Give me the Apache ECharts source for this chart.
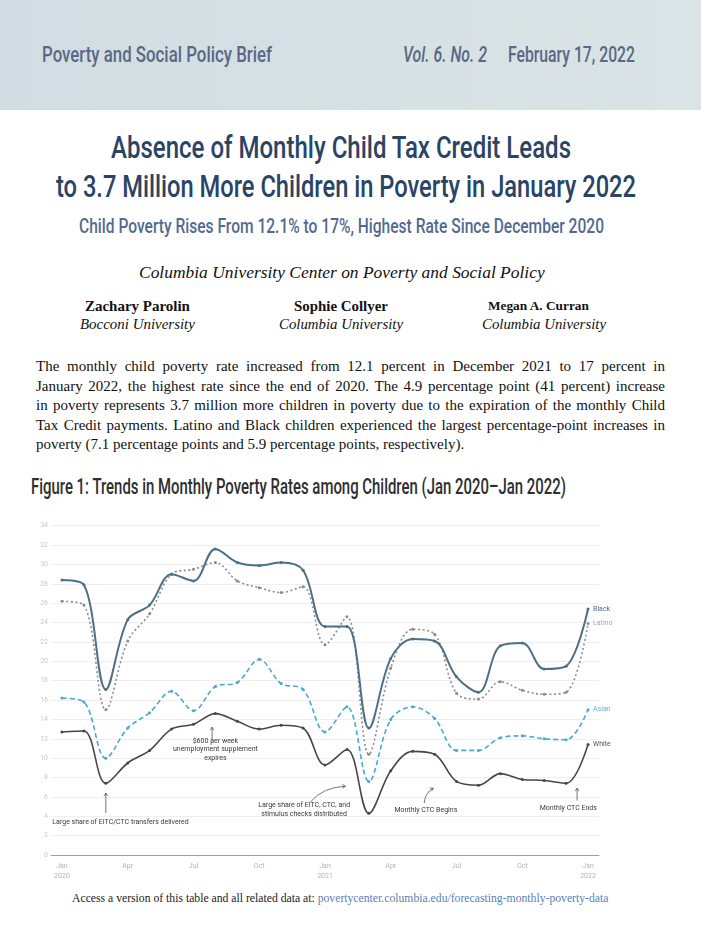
<!DOCTYPE html>
<html><head><meta charset="utf-8">
<script src="https://cdn.jsdelivr.net/npm/echarts@6/dist/echarts.min.js"></script>
<style>
html,body{margin:0;padding:0;width:701px;height:932px;background:#fff;overflow:hidden;position:relative}
.t{position:absolute;white-space:nowrap;line-height:1;margin:0;display:inline-block}
.cond{font-family:Roboto,'Noto Sans',sans-serif;transform-origin:0 50%;font-weight:500}
.serif{font-family:'Liberation Serif','Times New Roman',serif;color:#111}
#hdr{position:absolute;left:0;top:0;width:701px;height:110px;background:linear-gradient(90deg,#d1dde2,#dae4e6)}
#chart{position:absolute;left:0;top:500px;width:701px;height:390px}
a{color:#5a7fb8;text-decoration:none}
</style></head><body>
<div id="hdr"></div>
<span class="t cond" style="left:42px;top:55px;font-size:22px;color:#5a6885" data-w="230">Poverty and Social Policy Brief</span>
<span class="t cond" style="left:403px;top:55px;font-size:22px;color:#5a6885;font-style:italic" data-w="84">Vol. 6. No. 2</span>
<span class="t cond" style="left:508px;top:55px;font-size:22px;color:#5a6885" data-w="127">February 17, 2022</span>

<span class="t cond" style="left:111px;top:147px;font-size:31px;color:#2a4466" data-w="460">Absence of Monthly Child Tax Credit Leads</span>
<span class="t cond" style="left:56px;top:186px;font-size:31px;color:#2a4466" data-w="580">to 3.7 Million More Children in Poverty in January 2022</span>
<span class="t cond" style="left:79px;top:226px;font-size:20px;color:#536a90" data-w="525">Child Poverty Rises From 12.1% to 17%, Highest Rate Since December 2020</span>

<span class="t serif" style="left:139px;top:273px;font-size:17px;font-style:italic" data-w="406" data-m="fs">Columbia University Center on Poverty and Social Policy</span>
<span class="t serif" style="left:85px;top:306px;font-size:15px;font-weight:bold" data-w="105" data-m="fs">Zachary Parolin</span>
<span class="t serif" style="left:294px;top:306px;font-size:15px;font-weight:bold" data-w="94" data-m="fs">Sophie Collyer</span>
<span class="t serif" style="left:488px;top:306px;font-size:15px;font-weight:bold" data-w="101" data-m="fs">Megan A. Curran</span>
<span class="t serif" style="left:80px;top:324px;font-size:15px;font-style:italic" data-w="115" data-m="fs">Bocconi University</span>
<span class="t serif" style="left:279px;top:324px;font-size:15px;font-style:italic" data-w="124" data-m="fs">Columbia University</span>
<span class="t serif" style="left:482px;top:324px;font-size:15px;font-style:italic" data-w="124" data-m="fs">Columbia University</span>

<span class="t serif" style="left:36px;top:366px;font-size:15px" data-w="629" data-m="ws">The monthly child poverty rate increased from 12.1 percent in December 2021 to 17 percent in</span>
<span class="t serif" style="left:36px;top:385.5px;font-size:15px" data-w="629" data-m="ws">January 2022, the highest rate since the end of 2020. The 4.9 percentage point (41 percent) increase</span>
<span class="t serif" style="left:36px;top:405px;font-size:15px" data-w="629" data-m="ws">in poverty represents 3.7 million more children in poverty due to the expiration of the monthly Child</span>
<span class="t serif" style="left:36px;top:424.5px;font-size:15px" data-w="629" data-m="ws">Tax Credit payments. Latino and Black children experienced the largest percentage-point increases in</span>
<span class="t serif" style="left:36px;top:444px;font-size:15px">poverty (7.1 percentage points and 5.9 percentage points, respectively).</span>

<span class="t cond" style="left:31px;top:487px;font-size:22px;color:#2e2e2e" data-w="535">Figure 1: Trends in Monthly Poverty Rates among Children (Jan 2020–Jan 2022)</span>

<div id="chart"></div>

<span class="t serif" style="left:72px;top:899px;font-size:12px;color:#222" data-w="537" data-m="fs">Access a version of this table and all related data at: <a>povertycenter.columbia.edu/forecasting-monthly-poverty-data</a></span>

<script>
// ---- data ----
const months = ['Jan\n2020','Feb','Mar','Apr','May','Jun','Jul','Aug','Sep','Oct','Nov','Dec',
                'Jan\n2021','Feb','Mar','Apr','May','Jun','Jul','Aug','Sep','Oct','Nov','Dec','Jan\n2022'];
const black  = [28.4,27.9,17.1,24.3,25.8,29.0,28.3,31.6,30.2,29.9,30.2,29.4,23.6,23.6,13.1,20.3,22.3,22.1,18.4,16.8,21.6,21.9,19.2,19.5,25.4];
const latino = [26.2,25.8,15.0,22.1,24.9,29.0,29.5,30.2,28.3,27.6,27.1,27.7,21.7,24.6,10.4,19.3,23.3,22.8,16.7,16.1,17.9,17.0,16.6,16.8,23.9];
const asian  = [16.2,15.8,10.0,13.1,14.7,16.9,14.9,17.4,17.8,20.2,17.7,17.1,12.7,15.3,7.6,14.0,15.3,14.1,10.8,10.8,12.1,12.3,12.0,11.9,15.0];
const white  = [12.7,12.8,7.4,9.5,10.8,13.0,13.5,14.6,13.8,13.0,13.4,13.1,9.3,10.9,4.3,8.7,10.7,10.4,7.6,7.2,8.4,7.8,7.7,7.4,11.4];
const seriesNames = ['White','Asian','Latino','Black'];
// annotations in data coordinates (month index, percent)
const notes = [
  {text:'Large share of EITC/CTC transfers delivered', x:-0.44, y:3.43, align:'left'},
  {text:'$600 per week\nunemployment supplement\nexpires', x:7.0, y:10.9, align:'center'},
  {text:'Large share of EITC, CTC, and\nstimulus checks distributed', x:11.05, y:4.65, align:'center'},
  {text:'Monthly CTC Begins', x:16.6, y:4.6, align:'center'},
  {text:'Monthly CTC Ends', x:23.1, y:4.8, align:'center'}
];
const arrows = [
  {from:[2,4.34], to:[2,6.4]},
  {from:[6.85,11.7], to:[6.85,13.2]},
  {from:[11.33,5.47], to:[12.93,7.1], ctrl:[11.9,7.0]},
  {from:[16.53,5.37], to:[16.94,6.9], ctrl:[16.55,6.4]},
  {from:[23.5,5.6], to:[23.5,6.9]}
];

// ---- text fitting ----
document.querySelectorAll('.t').forEach(el=>{
  const w=+el.dataset.w, m=el.dataset.m||'sx';
  let tr='translateY(-50%)';
  if(w){
    const nat=el.getBoundingClientRect().width;
    if(m==='sx'){ tr+=' scaleX('+(w/nat)+')'; }
    else if(m==='fs'){ const fs=parseFloat(getComputedStyle(el).fontSize); el.style.fontSize=(fs*w/nat)+'px'; }
    else if(m==='ws'){ const n=(el.textContent.match(/ /g)||[]).length; el.style.wordSpacing=((w-nat)/n)+'px'; }
  }
  el.style.transform=tr;
});

// ---- chart ----
const chart = echarts.init(document.getElementById('chart'), null, {renderer:'canvas'});
const styles = {
  Black: {color:'#4d6f87', width:2, type:'solid', label:'#4d6f87', data:black},
  Latino:{color:'#8c8c8c', width:1.6, type:[2,2.5], label:'#a8a8a8', data:latino},
  Asian: {color:'#49a9cf', width:1.6, type:[5,3], label:'#5cb3d6', data:asian},
  White: {color:'#474747', width:1.6, type:'solid', label:'#555', data:white}
};
const font = 'Roboto, "Noto Sans", sans-serif';
chart.setOption({
  animation:false,
  grid:{left:51, right:102, top:25.7, bottom:35, containLabel:false, outerBoundsMode:'none'},
  xAxis:{type:'category', data:months, boundaryGap:true,
    axisLine:{lineStyle:{color:'#a0a0a0', width:1}},
    axisTick:{interval:2, alignWithLabel:true, length:3, lineStyle:{color:'#999'}},
    axisLabel:{interval:2, color:'#b4b4b4', fontSize:7, lineHeight:10, margin:6, fontFamily:font},
    splitLine:{show:false}},
  yAxis:{type:'value', min:0, max:34, interval:2,
    axisLine:{show:false}, axisTick:{show:false},
    axisLabel:{color:'#c8c8c8', fontSize:7, margin:3, fontFamily:font},
    splitLine:{lineStyle:{color:'#efefef', width:1}}},
  series: seriesNames.map(n=>({
    name:n, type:'line', data:styles[n].data, smooth:0.35,
    symbol:'circle', symbolSize:3,
    lineStyle:{color:styles[n].color, width:styles[n].width, type:styles[n].type},
    itemStyle:{color:styles[n].color},
    endLabel:{show:true, formatter:'{a}', color:styles[n].label, fontSize:7, distance:5, fontFamily:font},
    z: n==='Black'?5:3
  }))
});

function px(x,y){
  const a=chart.convertToPixel({gridIndex:0},[0,y]);
  const b=chart.convertToPixel({gridIndex:0},[1,y]);
  return [a[0]+x*(b[0]-a[0]), a[1]];
}
const g=[];
notes.forEach(n=>{
  const p=px(n.x,n.y);
  g.push({type:'text', x:p[0], y:p[1], style:{text:n.text, fill:'#3a3a3a', fontSize:7, lineHeight:8.5,
    fontFamily:font, align:n.align, verticalAlign:'middle'}, z:10});
});
arrows.forEach(a=>{
  const f=px(a.from[0],a.from[1]), t=px(a.to[0],a.to[1]);
  let dir;
  if(a.ctrl){
    const c=px(a.ctrl[0],a.ctrl[1]);
    g.push({type:'bezierCurve', shape:{x1:f[0],y1:f[1],x2:t[0],y2:t[1],cpx1:c[0],cpy1:c[1]},
      style:{stroke:'#555', lineWidth:0.8, fill:null}, z:10});
    dir=Math.atan2(t[1]-c[1], t[0]-c[0]);
  } else {
    g.push({type:'line', shape:{x1:f[0],y1:f[1],x2:t[0],y2:t[1]}, style:{stroke:'#555', lineWidth:0.8}, z:10});
    dir=Math.atan2(t[1]-f[1], t[0]-f[0]);
  }
  const L=3.5, s=0.55;
  g.push({type:'polyline', shape:{points:[
    [t[0]-L*Math.cos(dir-s), t[1]-L*Math.sin(dir-s)], t,
    [t[0]-L*Math.cos(dir+s), t[1]-L*Math.sin(dir+s)]]},
    style:{stroke:'#555', lineWidth:0.8, fill:null}, z:10});
});
chart.setOption({graphic:g});
</script>
</body></html>
